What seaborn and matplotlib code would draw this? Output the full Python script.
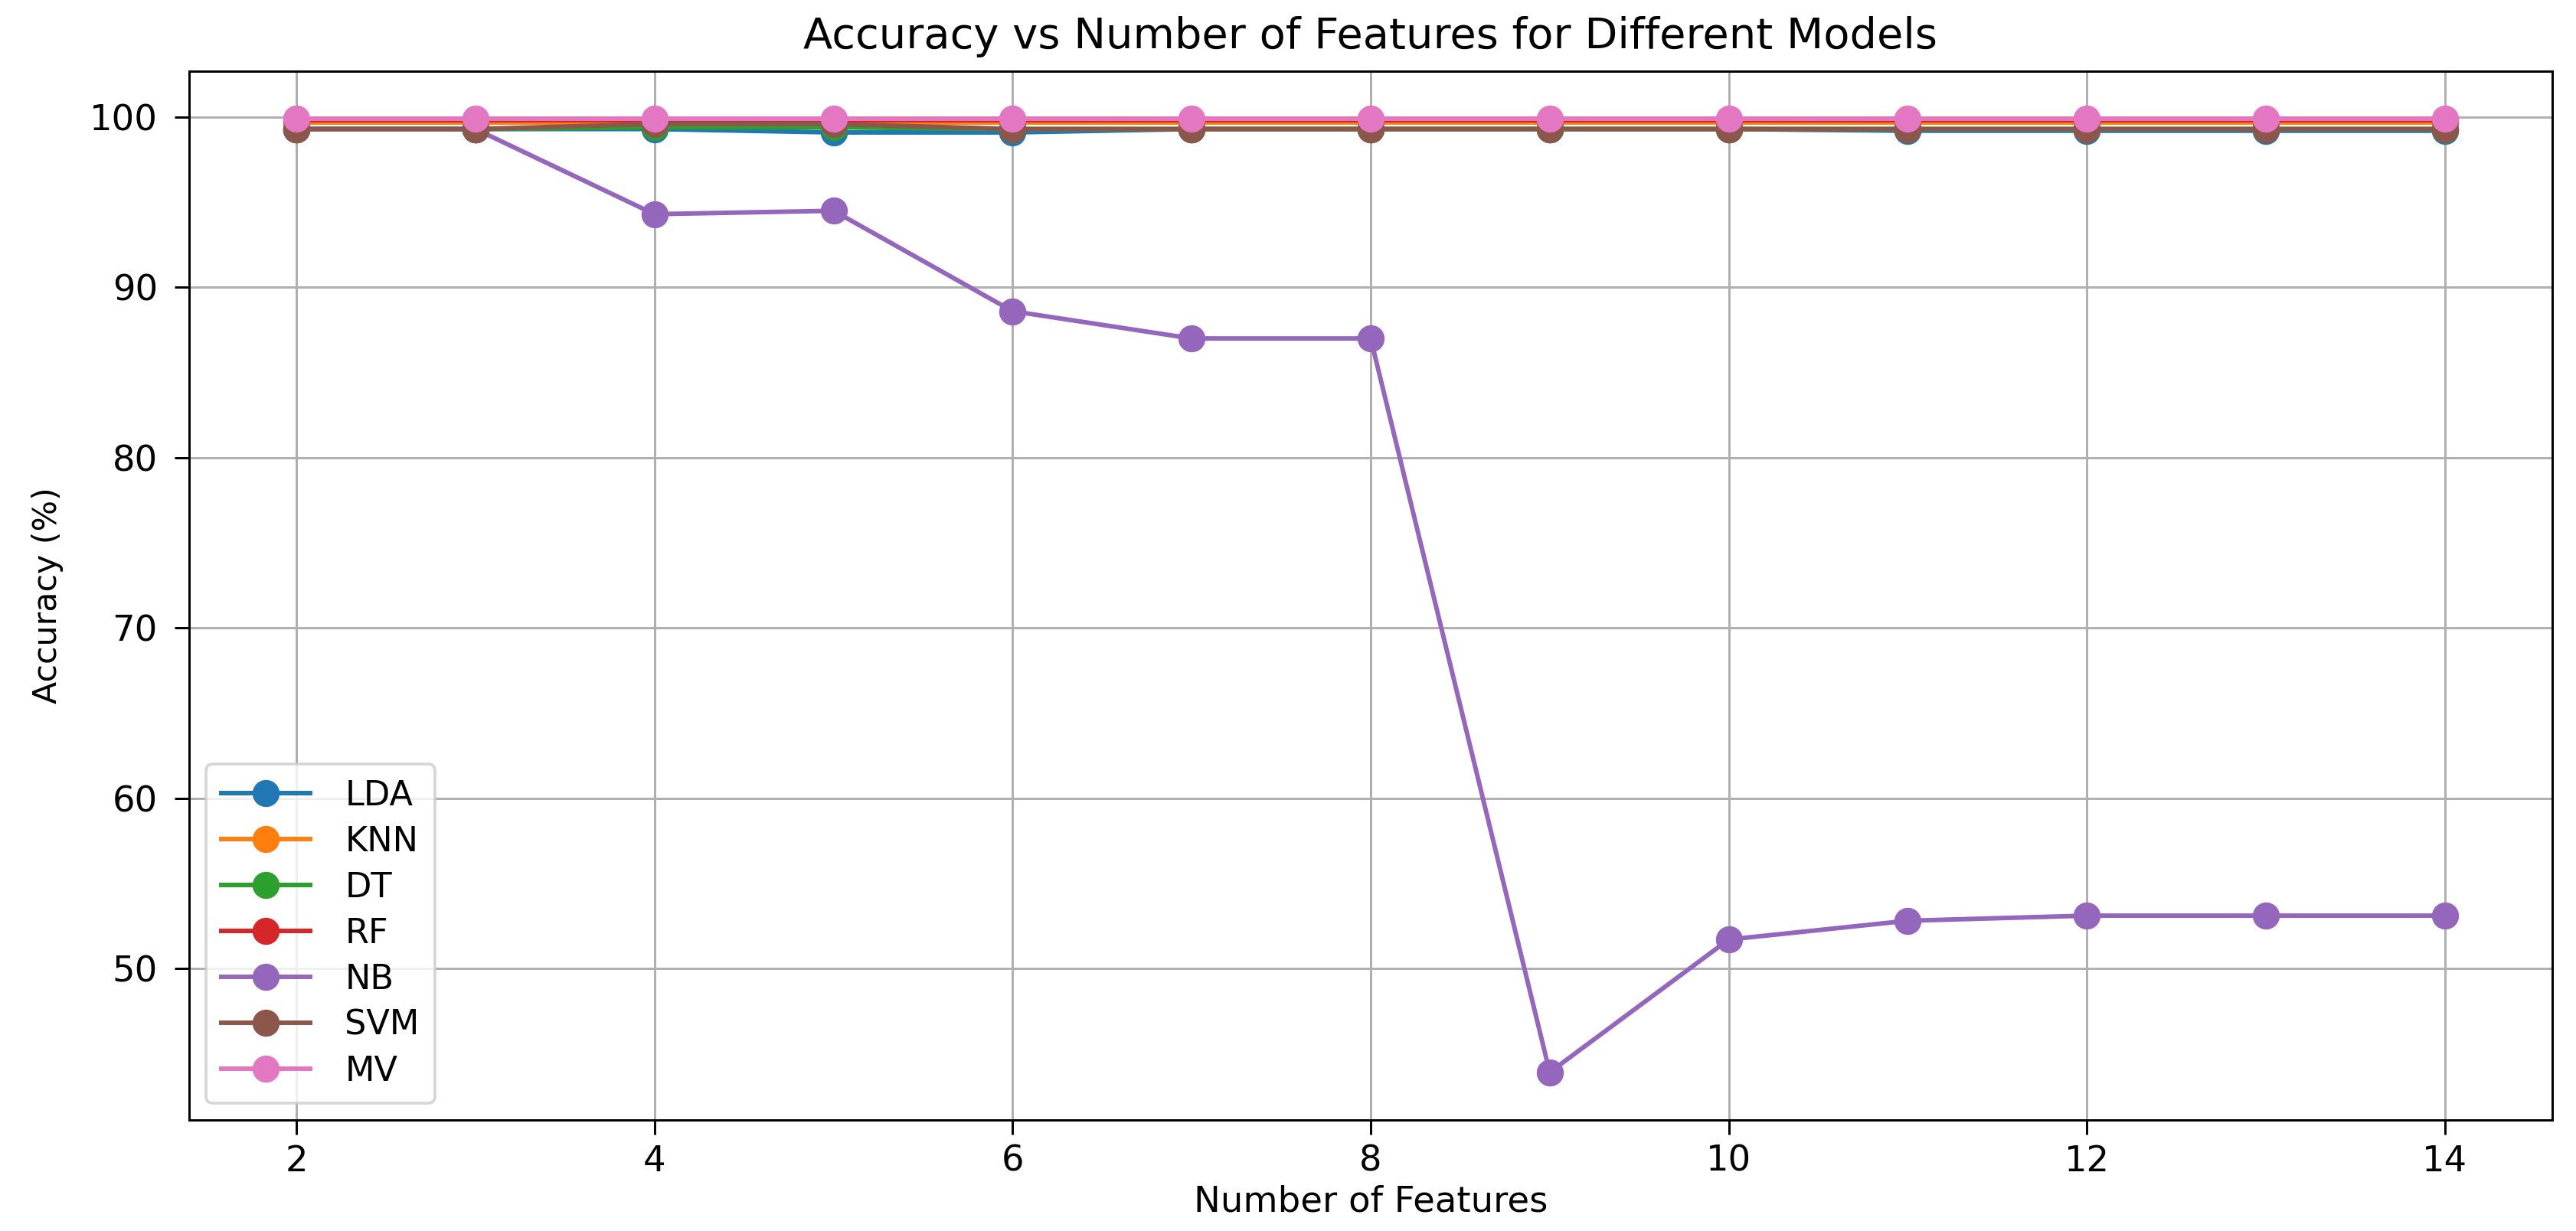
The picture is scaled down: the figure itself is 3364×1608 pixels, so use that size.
import matplotlib
matplotlib.use("Agg")
import matplotlib.pyplot as plt
import seaborn as sns
import pandas as pd

features = [2, 3, 4, 5, 6, 7, 8, 9, 10, 11, 12, 13, 14]
models = ["LDA", "KNN", "DT", "RF", "NB", "SVM", "MV"]
lda = [99.3, 99.3, 99.3, 99.1, 99.1, 99.3, 99.3, 99.3, 99.3, 99.2, 99.2, 99.2, 99.2]
knn = [99.7, 99.7, 99.7, 99.7, 99.7, 99.7, 99.7, 99.7, 99.7, 99.7, 99.7, 99.7, 99.7]
dt = [99.3, 99.3, 99.4, 99.4, 99.3, 99.3, 99.3, 99.3, 99.3, 99.3, 99.3, 99.3, 99.3]
rf = [99.8, 99.8, 99.8, 99.8, 99.8, 99.8, 99.8, 99.8, 99.8, 99.8, 99.8, 99.8, 99.8]
nb = [99.3, 99.3, 94.3, 94.5, 88.6, 87.0, 87.0, 43.9, 51.7, 52.8, 53.1, 53.1, 53.1]
svm = [99.3, 99.3, 99.6, 99.6, 99.3, 99.3, 99.3, 99.3, 99.3, 99.3, 99.3, 99.3, 99.3]
mv = [99.9, 99.9, 99.9, 99.9, 99.9, 99.9, 99.9, 99.9, 99.9, 99.9, 99.9, 99.9, 99.9]

series = {"LDA": lda, "KNN": knn, "DT": dt, "RF": rf, "NB": nb, "SVM": svm, "MV": mv}

rows = []
for m in models:
    for f, v in zip(features, series[m]):
        rows.append({"Features": f, "Accuracy": v, "Model": m})
df = pd.DataFrame(rows)

palette = sns.color_palette("tab10", 7)

fig = plt.figure(figsize=(3364 / 268, 1608 / 268), dpi=268)
ax = fig.add_axes([0.0734, 0.0902, 0.9908 - 0.0734, 0.9422 - 0.0902])

for i, m in enumerate(models):
    sub = df[df["Model"] == m]
    sns.lineplot(data=sub, x="Features", y="Accuracy", ax=ax, color=palette[i],
                 label=m, marker="o", markersize=8.5, markeredgecolor=palette[i],
                 markeredgewidth=1.0, linewidth=1.6)

ax.set_title("Accuracy vs Number of Features for Different Models", fontsize=15, pad=8)
ax.set_xlabel("Number of Features", fontsize=12.5, labelpad=2)
ax.set_ylabel("Accuracy (%)", fontsize=11.5, labelpad=9)
ax.tick_params(axis="both", labelsize=12.5, length=5)
ax.tick_params(axis="y", pad=6)
ax.grid(True)
ax.legend(loc="lower left", fontsize=12, labelspacing=0.38, handlelength=2.6,
          handletextpad=1.0, borderpad=0.45)

fig.savefig("out.png", dpi=268)
